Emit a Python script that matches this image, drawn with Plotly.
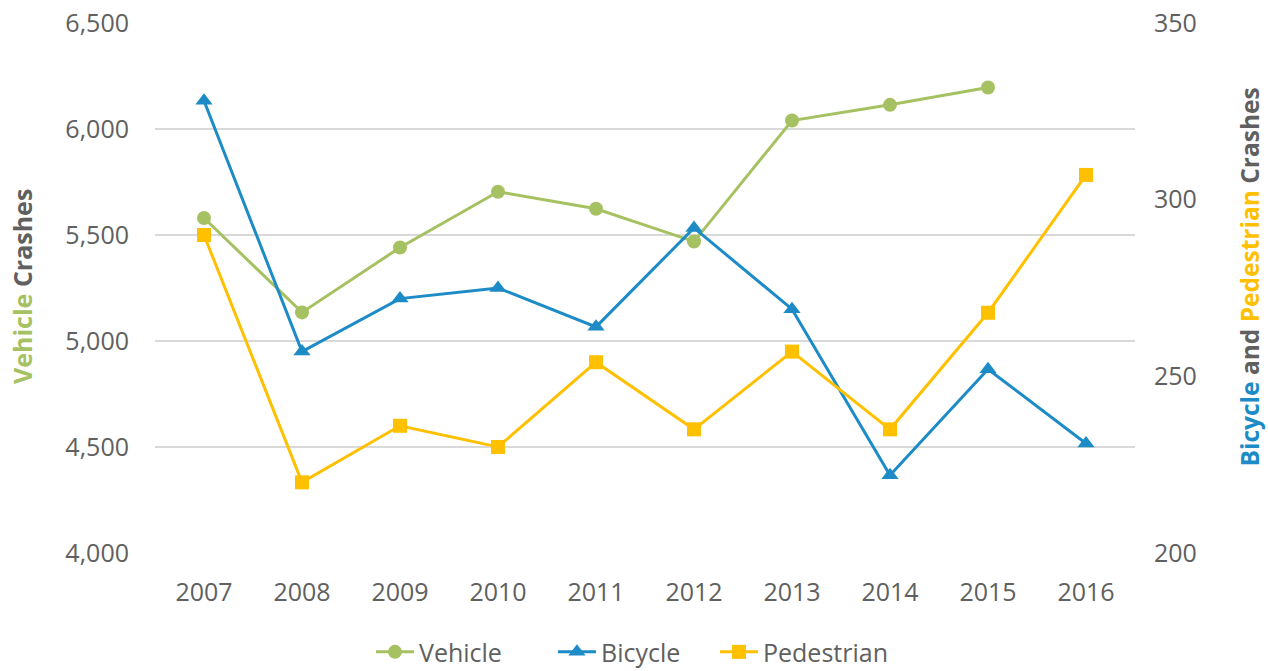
import plotly.graph_objects as go

years = ["2007", "2008", "2009", "2010", "2011", "2012", "2013", "2014", "2015", "2016"]
vehicle = [5580, 5135, 5441, 5704, 5624, 5469, 6040, 6114, 6196, None]
bicycle = [328, 257, 272, 275, 264, 292, 269, 222, 252, 231]
pedestrian = [290, 220, 236, 230, 254, 235, 257, 235, 268, 307]

GREEN = "#A6C161"
BLUE = "#1C8BC6"
ORANGE = "#FFC000"
GRAY = "#606060"
FONT = "Open Sans"

fig = go.Figure()
fig.add_trace(go.Scatter(x=years, y=vehicle, name="Vehicle", mode="lines+markers",
                         line=dict(color=GREEN, width=3),
                         marker=dict(symbol="circle", size=14, color=GREEN),
                         yaxis="y", legend="legend"))
fig.add_trace(go.Scatter(x=years, y=bicycle, name="Bicycle", mode="lines+markers",
                         line=dict(color=BLUE, width=3),
                         marker=dict(symbol="triangle-up", size=15, color=BLUE),
                         yaxis="y2", legend="legend2"))
fig.add_trace(go.Scatter(x=years, y=pedestrian, name="Pedestrian", mode="lines+markers",
                         line=dict(color=ORANGE, width=3),
                         marker=dict(symbol="square", size=14, color=ORANGE),
                         yaxis="y2", legend="legend3"))

leg_common = dict(orientation="h", xanchor="left", y=-0.187, yanchor="middle",
                  itemwidth=38,
                  font=dict(size=25, color=GRAY), bgcolor="rgba(0,0,0,0)")

fig.update_layout(
    width=1268, height=671,
    margin=dict(l=155, r=133, t=23, b=118, autoexpand=False),
    paper_bgcolor="white", plot_bgcolor="white",
    font=dict(family=FONT, size=25, color=GRAY),
    showlegend=True,
    legend=dict(x=0.2204, **leg_common),
    legend2=dict(x=0.4061, **leg_common),
    legend3=dict(x=0.5714, **leg_common),
    xaxis=dict(type="category", range=[-0.5, 9.5], showgrid=False, showline=False,
               automargin=False, ticklabeloverflow="allow",
               ticks="", ticklabelstandoff=22, tickfont=dict(size=25, color=GRAY)),
    yaxis=dict(range=[4000, 6500], dtick=500, tickformat=",", showgrid=True,
               automargin=False, ticklabeloverflow="allow",
               gridcolor="#D9D9D9", gridwidth=1.5, zeroline=False, showline=False,
               ticks="", ticklabelstandoff=25, tickfont=dict(size=25, color=GRAY)),
    yaxis2=dict(range=[200, 350], dtick=50, overlaying="y", side="right",
                automargin=False, ticklabeloverflow="allow",
                showgrid=False, zeroline=False, showline=False, ticks="",
                ticklabelstandoff=18, tickfont=dict(size=25, color=GRAY)),
    annotations=[
        dict(text="<b><span style='color:%s'>Vehicle</span> Crashes</b>" % GREEN,
             xref="paper", yref="paper", x=-0.1357, y=0.502, xanchor="center", yanchor="middle",
             textangle=-90, showarrow=False, font=dict(size=25, color=GRAY)),
        dict(text="<b><span style='color:%s'>Bicycle</span> and <span style='color:%s'>Pedestrian</span> Crashes</b>" % (BLUE, ORANGE),
             xref="paper", yref="paper", x=1.1173, y=0.5217, xanchor="center", yanchor="middle",
             textangle=-90, showarrow=False, font=dict(size=24.5, color=GRAY)),
    ],
)

fig.write_html("out.html", config={"displayModeBar": False},
               post_script="document.body.style.margin='0';")
